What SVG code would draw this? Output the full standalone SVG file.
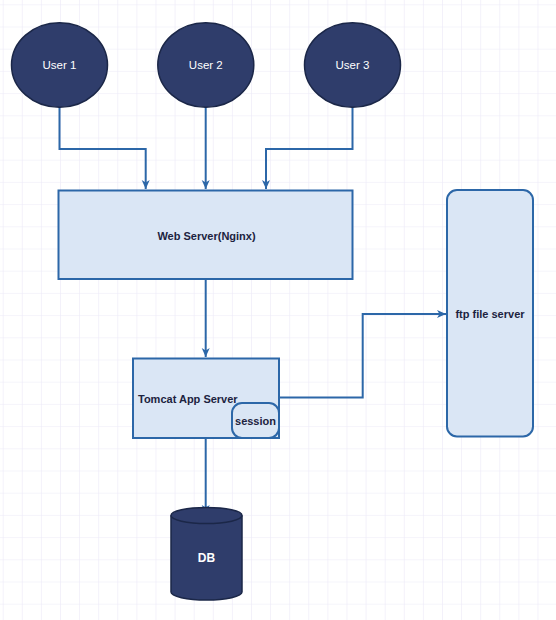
<svg xmlns="http://www.w3.org/2000/svg" width="556" height="620" viewBox="0 0 556 620">
<style>
.user{fill:#2f3d6b;stroke:#1b2748;stroke-width:1.5}
.box{fill:#dae6f5;stroke:#2c67a8;stroke-width:2}
.conn{fill:none;stroke:#2c67a8;stroke-width:2}
.ut{font-family:"Liberation Sans",Arial,sans-serif;font-size:11.5px;fill:#ffffff;text-anchor:middle;dominant-baseline:central}
.bt{font-family:"Liberation Sans",Arial,sans-serif;font-size:11px;font-weight:bold;fill:#1c2340;text-anchor:middle;dominant-baseline:central}
</style>
<defs>
<pattern id="grid" x="2.7" y="4.3" width="19.1" height="22.2" patternUnits="userSpaceOnUse">
<path d="M0,0 H19.1 M0,0 V22.2" fill="none" stroke="#ece9f8" stroke-width="1.2"/>
</pattern>
<marker id="arr" markerWidth="10" markerHeight="10" refX="9" refY="5" orient="auto" markerUnits="userSpaceOnUse">
<path d="M0,1 L9,5 L0,9 L2.5,5 z" fill="#2c67a8"/>
</marker>
</defs>
<rect width="556" height="620" fill="#ffffff"/>
<rect width="556" height="620" fill="url(#grid)"/>
<g id="connectors">
<path class="conn" d="M59.5,107 V149 H145.7 V189" marker-end="url(#arr)"/>
<path class="conn" d="M205.7,107 V189" marker-end="url(#arr)"/>
<path class="conn" d="M352.5,107 V149 H266 V189" marker-end="url(#arr)"/>
<path class="conn" d="M205.7,279 V357" marker-end="url(#arr)"/>
<path class="conn" d="M279,397.5 H362.7 V314 H446" marker-end="url(#arr)"/>
<path class="conn" d="M205.7,438 V514" marker-end="url(#arr)"/>
</g>
<g id="user1">
<ellipse class="user" cx="59.5" cy="65" rx="48" ry="42.3"/>
<text class="ut" x="59.5" y="65">User 1</text>
</g>
<g id="user2">
<ellipse class="user" cx="205.8" cy="65" rx="48" ry="42.3"/>
<text class="ut" x="205.8" y="65">User 2</text>
</g>
<g id="user3">
<ellipse class="user" cx="352.5" cy="65" rx="48" ry="42.3"/>
<text class="ut" x="352.5" y="65">User 3</text>
</g>
<g id="webserver">
<rect class="box" x="58.5" y="190.5" width="294" height="88.5"/>
<text class="bt" x="206.5" y="235.5">Web Server(Nginx)</text>
</g>
<g id="tomcat">
<rect class="box" x="133" y="358.5" width="146" height="79.5"/>
<text class="bt" x="138" y="399" style="text-anchor:start">Tomcat App Server</text>
</g>
<g id="session">
<rect class="box" x="232" y="403" width="47" height="35" rx="10" ry="10"/>
<text class="bt" x="255.5" y="420.5">session</text>
</g>
<g id="ftp">
<rect class="box" x="447" y="190" width="86" height="246.5" rx="10" ry="10"/>
<text class="bt" x="490" y="314">ftp file server</text>
</g>
<g id="db">
<path class="user" d="M171,515.5 V592 A35.5,8 0 0 0 242,592 V515.5 A35.5,8 0 0 0 171,515.5 Z"/>
<path d="M171,515.5 A35.5,8 0 0 0 242,515.5" fill="none" stroke="#1b2748" stroke-width="1.5"/>
<text class="bt" x="206.5" y="557.5" style="fill:#ffffff;font-size:12px">DB</text>
</g>
</svg>
